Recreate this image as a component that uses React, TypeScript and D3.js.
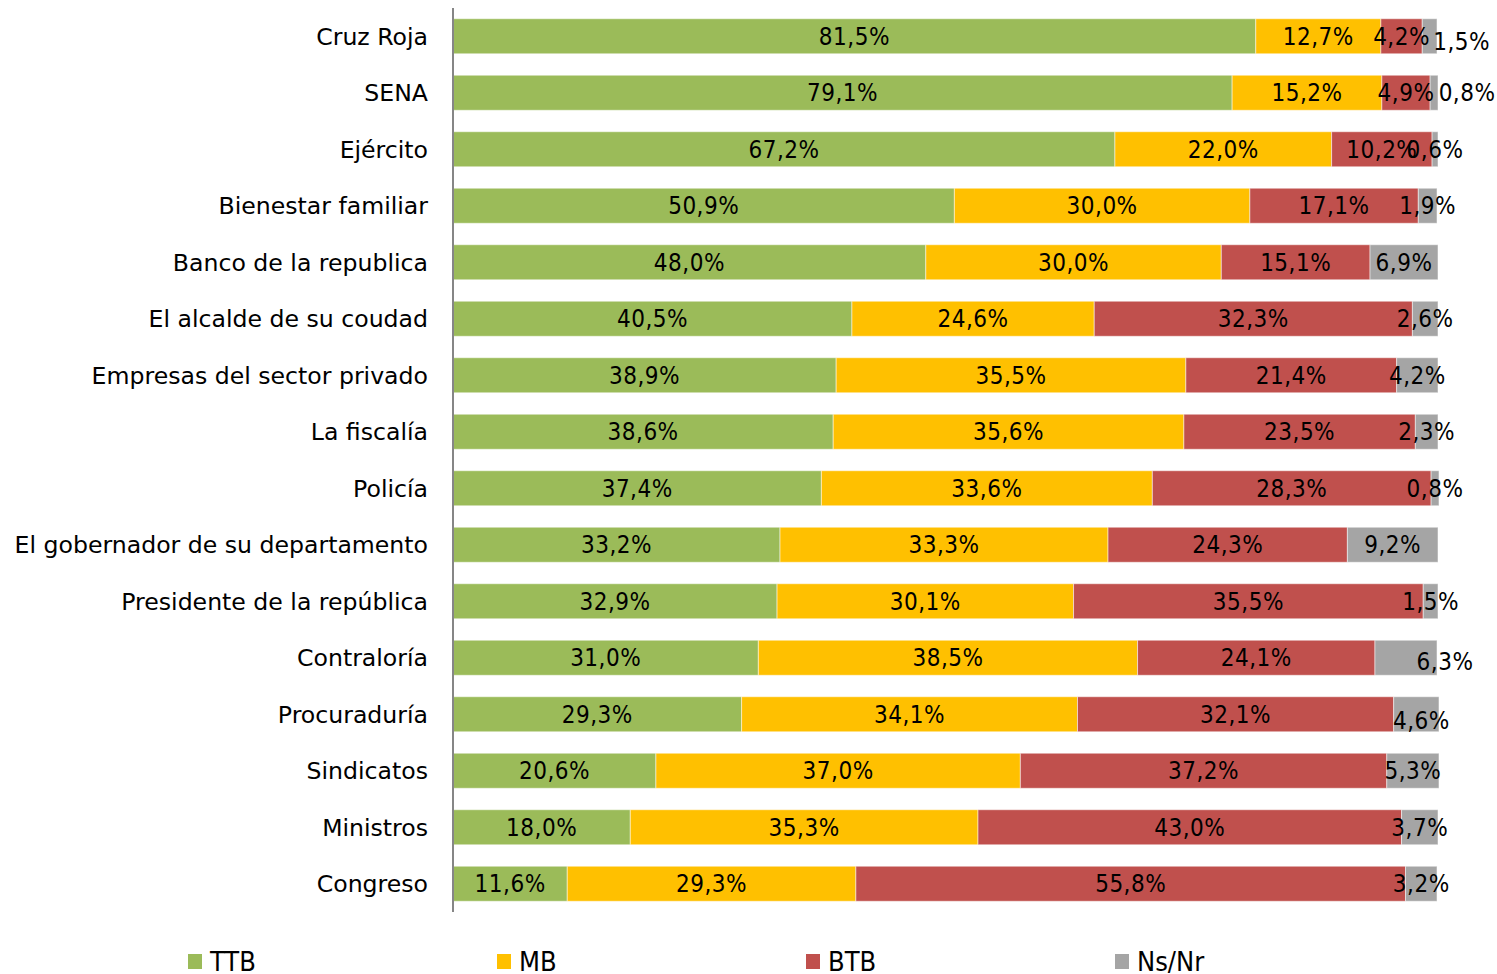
import React from "react";
import * as d3 from "d3";

const categories = [
  "Cruz Roja", "SENA", "Ejército", "Bienestar familiar", "Banco de la republica",
  "El alcalde de su coudad", "Empresas del sector privado", "La fiscalía", "Policía",
  "El gobernador de su departamento", "Presidente de la república", "Contraloría",
  "Procuraduría", "Sindicatos", "Ministros", "Congreso",
];
const ttb = [81.5, 79.1, 67.2, 50.9, 48.0, 40.5, 38.9, 38.6, 37.4, 33.2, 32.9, 31.0, 29.3, 20.6, 18.0, 11.6];
const mb = [12.7, 15.2, 22.0, 30.0, 30.0, 24.6, 35.5, 35.6, 33.6, 33.3, 30.1, 38.5, 34.1, 37.0, 35.3, 29.3];
const btb = [4.2, 4.9, 10.2, 17.1, 15.1, 32.3, 21.4, 23.5, 28.3, 24.3, 35.5, 24.1, 32.1, 37.2, 43.0, 55.8];
const nsnr = [1.5, 0.8, 0.6, 1.9, 6.9, 2.6, 4.2, 2.3, 0.8, 9.2, 1.5, 6.3, 4.6, 5.3, 3.7, 3.2];
const seriesNames = ["TTB", "MB", "BTB", "Ns/Nr"];
const seriesColors = ["#9BBB59", "#FFC000", "#C0504D", "#A5A5A5"];

// hand-moved labels in the original (pixels)
const labelNudge: Record<string, [number, number]> = {
  "Cruz Roja": [32, 5],
  "SENA": [33, 0],
  "Contraloría": [39, 4],
  "Procuraduría": [5, 6],
};

const W = 1497;
const H = 974;
const COND = "'DejaVu Sans Condensed', 'DejaVu Sans', sans-serif";
const REG = "'DejaVu Sans', sans-serif";

export default function App() {
  const x = d3.scaleLinear().domain([0, 100]).range([453, 1438]);
  const y = d3.scaleBand<string>().domain(categories).range([8, 912]).paddingInner(0.38).paddingOuter(0.19);

  const rows = categories.map((c, i) => ({ cat: c, TTB: ttb[i], MB: mb[i], BTB: btb[i], "Ns/Nr": nsnr[i] }));
  const stacked = d3.stack<any>().keys(seriesNames)(rows);
  const fmt = (v: number) => v.toFixed(1).replace(".", ",") + "%";

  return (
    <svg width={W} height={H} style={{ position: "absolute", left: 0, top: 0, display: "block" }} fontFamily={COND}>
      {stacked.map((s, si) => (
        <g key={s.key} fill={seriesColors[si]}>
          {s.map((d, i) => (
            <rect key={i} x={x(d[0])} y={y(categories[i])} width={x(d[1]) - x(d[0])}
              height={y.bandwidth()} stroke="#fff" strokeOpacity={0.5} strokeWidth={1} />
          ))}
        </g>
      ))}
      {stacked.map((s, si) => (
        <g key={s.key + "l"} fontSize={24} textAnchor="middle" fill="#000" letterSpacing={0.5}>
          {s.map((d, i) => {
            const nudge = si === 3 && labelNudge[categories[i]] ? labelNudge[categories[i]] : [0, 0];
            return (
              <text key={i} x={(x(d[0]) + x(d[1])) / 2 + nudge[0]}
                y={(y(categories[i]) as number) + y.bandwidth() / 2 + nudge[1]} dy="0.36em">
                {fmt(d[1] - d[0])}
              </text>
            );
          })}
        </g>
      ))}
      <line x1={453} x2={453} y1={8} y2={912} stroke="#868686" strokeWidth={2} />
      <g fontSize={23.6} textAnchor="end" fill="#000" fontFamily={REG}>
        {categories.map(c => (
          <text key={c} x={428} y={(y(c) as number) + y.bandwidth() / 2} dy="0.36em">{c}</text>
        ))}
      </g>
      <g>
        {seriesNames.map((n, i) => {
          const lx = 188 + i * 309;
          return (
            <g key={n}>
              <rect x={lx} y={954} width={14} height={15} fill={seriesColors[i]} />
              <text x={lx + 22} y={971} fontSize={27} fill="#000">{n}</text>
            </g>
          );
        })}
      </g>
    </svg>
  );
}
